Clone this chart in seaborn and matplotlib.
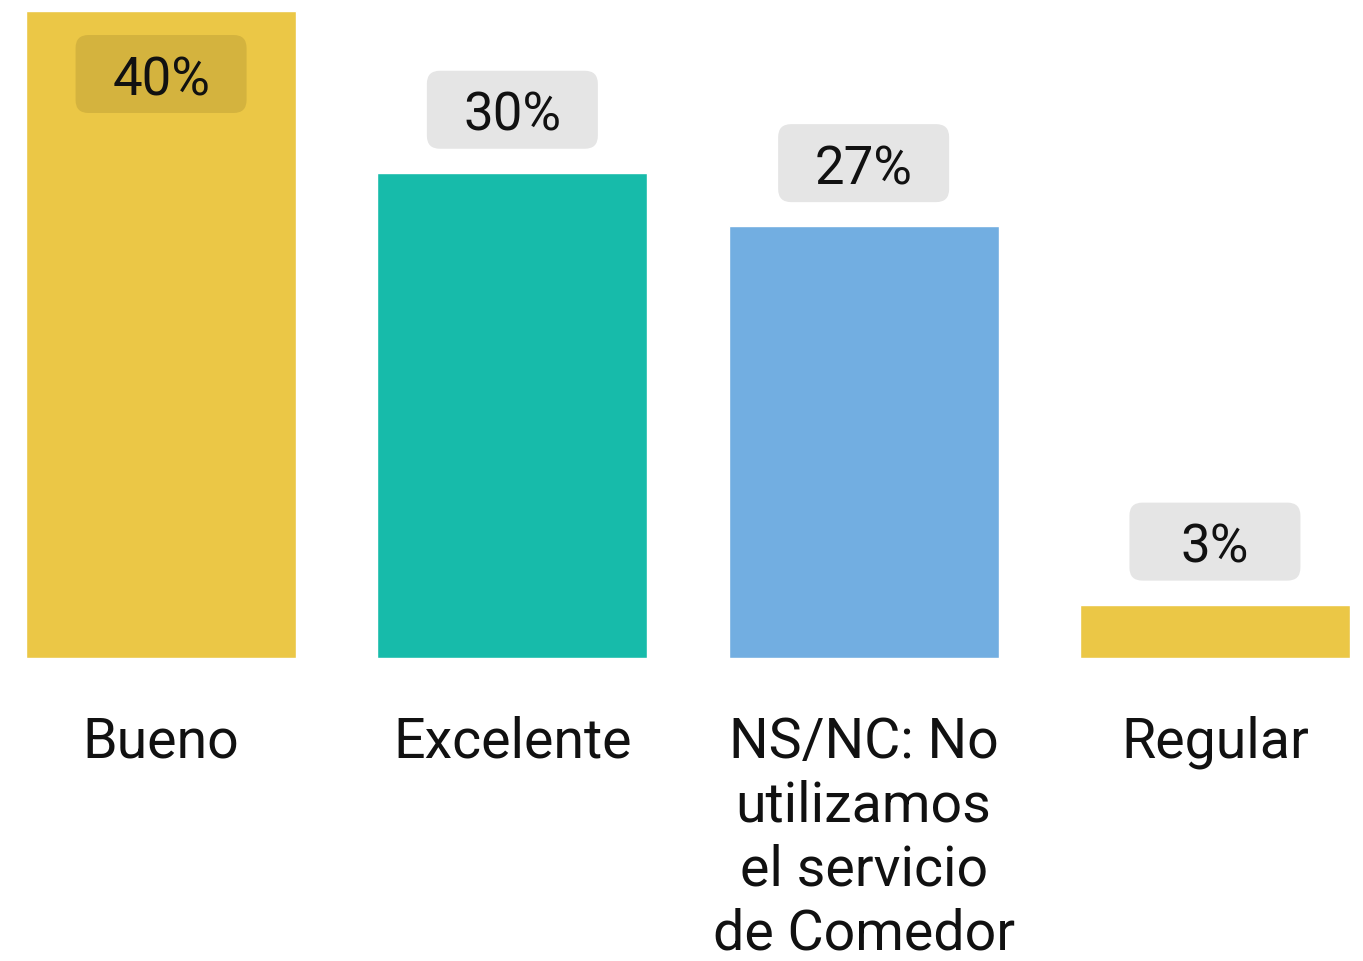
import matplotlib
matplotlib.use("Agg")
import matplotlib.pyplot as plt
import matplotlib.transforms as mtrans
from matplotlib.patches import FancyBboxPatch
import seaborn as sns
import pandas as pd

categories = ["Bueno", "Excelente", "NS/NC: No\nutilizamos\nel servicio\nde Comedor", "Regular"]
values = [40.0, 30.0, 26.7, 3.3]
labels = ["40%", "30%", "27%", "3%"]
colors = ["#EBC746", "#17BBAA", "#72AEE1", "#EBC746"]

sns.set_style("white")
plt.rcParams["font.family"] = ["Roboto", "DejaVu Sans"]

df = pd.DataFrame({"cat": categories, "val": values})

fig = plt.figure(figsize=(13.63, 9.62), dpi=100)
ax = fig.add_axes([26 / 1363, 1 - 659 / 962, (1350 - 26) / 1363, (659 - 12) / 962])

sns.barplot(data=df, x="cat", y="val", hue="cat", palette=colors, legend=False,
            width=0.769, saturation=1, ax=ax)

ax.set_xlim(-0.3845, 3.3845)
ax.set_ylim(0, 40)
sns.despine(ax=ax, left=True, bottom=True)
ax.set_yticks([])
ax.set_xlabel("")
ax.set_ylabel("")
ax.tick_params(axis="x", length=0, pad=41, labelsize=40)
for t in ax.get_xticklabels():
    t.set_linespacing(1.26)
    t.set_verticalalignment("top")
    t.set_color("#111111")

# value labels in rounded boxes (box size in inches, anchored at the bar top)
bw, bh, dy = 1.71, 0.78, 0.63
for i, (v, lab) in enumerate(zip(values, labels)):
    if v > 35:
        off, fc = -dy, "#D4B33E"
    else:
        off, fc = dy, "#E5E5E5"
    tr = fig.dpi_scale_trans + mtrans.ScaledTranslation(i, v, ax.transData)
    box = FancyBboxPatch((-bw / 2, off - bh / 2), bw, bh,
                         boxstyle="round,pad=0,rounding_size=0.13",
                         fc=fc, ec="none", transform=tr, clip_on=False)
    ax.add_patch(box)
    ax.text(0, off, lab, transform=tr, ha="center", va="center_baseline",
            fontsize=38, color="#111111")

fig.savefig("out.png", dpi=100)
